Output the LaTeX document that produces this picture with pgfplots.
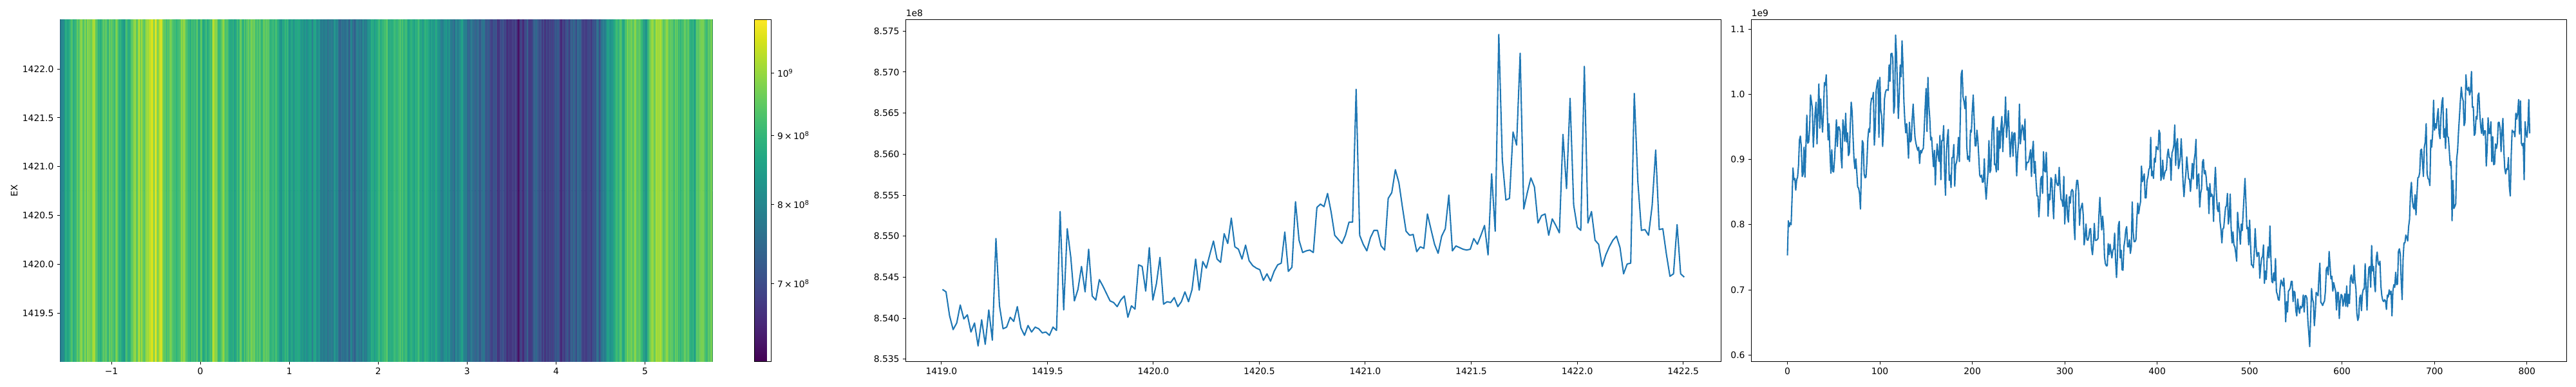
\documentclass[border=0pt]{standalone}
\usepackage{pgfplots}
\usepackage{pgfplotstable}
\usepackage{fontspec}
\setmainfont{DejaVu Sans}
\pgfplotsset{compat=1.18}
\definecolor{mplblue}{HTML}{1F77B4}
\pgfplotsset{
  mplaxis/.style={
    scale only axis, anchor=south west,
    axis line style={line width=0.72pt},
    tick align=outside, major tick length=3.5pt,
    every tick/.style={line width=0.72pt,black},
    xtick pos=bottom, ytick pos=left, minor tick num=0,
    tick label style={font=\fontsize{10}{12}\selectfont},
    /pgf/number format/assume math mode=true,
    /pgf/number format/1000 sep={},
    xticklabel style={inner sep=0pt, yshift=-3.5pt},
    yticklabel style={inner sep=0pt, xshift=-3.5pt},
    scaled x ticks=false, scaled y ticks=false,
  }
}
\pgfplotstableread{
v
0.753
0.806
0.797
0.803
0.800
0.840
0.887
0.869
0.871
0.853
0.869
0.873
0.891
0.930
0.936
0.920
0.874
0.878
0.919
0.873
0.920
0.968
0.925
0.927
0.947
0.999
0.989
0.978
0.919
0.947
0.973
0.988
0.924
0.973
1.016
0.948
0.993
0.963
0.942
0.973
1.018
1.014
1.030
0.980
0.930
0.955
0.911
0.879
0.915
0.882
0.881
0.901
0.930
0.961
0.920
0.950
0.950
0.943
0.904
0.887
0.961
0.948
0.928
0.971
0.927
0.941
0.906
0.910
0.953
0.988
0.973
0.934
0.901
0.886
0.901
0.881
0.858
0.856
0.848
0.824
0.881
0.929
0.925
0.878
0.872
0.873
0.897
0.932
0.947
0.942
0.983
0.994
0.993
1.003
0.922
0.947
1.006
1.016
1.022
0.934
1.026
0.976
0.966
0.920
0.947
0.993
1.003
1.007
1.007
1.006
1.045
1.020
1.062
1.063
1.055
0.971
0.983
1.091
1.062
1.012
0.963
0.999
1.045
1.027
1.082
1.045
0.989
0.960
0.941
0.955
0.930
0.902
0.957
0.927
0.930
0.963
0.985
0.957
0.934
0.925
0.919
0.914
0.919
0.894
0.914
0.910
0.915
0.917
0.947
0.980
1.009
0.943
1.026
0.983
0.963
0.930
0.934
0.910
0.889
0.914
0.861
0.901
0.924
0.907
0.897
0.937
0.869
0.929
0.929
0.952
0.881
0.845
0.910
0.934
0.946
0.868
0.876
0.857
0.903
0.903
0.923
0.859
0.892
0.896
0.907
0.934
0.897
0.963
1.031
1.037
0.996
0.989
0.978
0.997
0.920
0.900
0.905
0.897
0.945
0.942
0.976
0.999
0.963
0.921
0.921
0.945
0.930
0.904
0.876
0.873
0.876
0.865
0.866
0.901
0.858
0.839
0.861
0.881
0.929
0.880
0.884
0.930
0.963
0.966
0.892
0.893
0.881
0.949
0.884
0.944
0.917
0.950
0.966
0.912
0.947
0.957
0.996
0.934
0.953
0.975
0.937
0.904
0.927
0.942
0.905
0.940
0.941
0.917
0.875
0.907
0.927
0.985
0.924
0.940
0.953
0.948
0.930
0.962
0.884
0.896
0.895
0.897
0.906
0.915
0.874
0.914
0.928
0.879
0.897
0.865
0.844
0.844
0.812
0.835
0.870
0.874
0.848
0.912
0.883
0.881
0.911
0.871
0.813
0.847
0.838
0.872
0.869
0.835
0.809
0.855
0.877
0.865
0.861
0.860
0.888
0.858
0.838
0.838
0.828
0.874
0.801
0.832
0.846
0.812
0.804
0.843
0.833
0.851
0.854
0.851
0.799
0.777
0.851
0.868
0.868
0.851
0.799
0.822
0.828
0.833
0.815
0.769
0.782
0.801
0.777
0.776
0.781
0.793
0.794
0.764
0.754
0.772
0.802
0.776
0.776
0.777
0.779
0.815
0.842
0.815
0.792
0.813
0.796
0.751
0.740
0.737
0.737
0.771
0.754
0.770
0.759
0.749
0.761
0.763
0.787
0.745
0.719
0.750
0.799
0.805
0.749
0.761
0.731
0.730
0.766
0.776
0.792
0.797
0.766
0.766
0.777
0.756
0.766
0.835
0.789
0.774
0.774
0.777
0.809
0.833
0.817
0.828
0.835
0.890
0.866
0.871
0.878
0.841
0.841
0.868
0.873
0.885
0.887
0.934
0.875
0.882
0.871
0.902
0.896
0.920
0.917
0.915
0.945
0.940
0.868
0.874
0.899
0.870
0.878
0.883
0.884
0.907
0.916
0.903
0.902
0.868
0.910
0.914
0.922
0.953
0.891
0.924
0.932
0.886
0.892
0.904
0.932
0.901
0.864
0.843
0.864
0.878
0.904
0.887
0.870
0.870
0.851
0.871
0.894
0.870
0.899
0.909
0.931
0.855
0.874
0.878
0.827
0.848
0.855
0.896
0.900
0.878
0.883
0.873
0.853
0.857
0.817
0.863
0.843
0.847
0.843
0.805
0.861
0.888
0.851
0.825
0.820
0.834
0.805
0.792
0.772
0.794
0.795
0.812
0.827
0.829
0.848
0.801
0.812
0.847
0.795
0.772
0.789
0.769
0.766
0.756
0.744
0.819
0.799
0.789
0.770
0.801
0.791
0.818
0.845
0.871
0.835
0.794
0.796
0.769
0.807
0.769
0.738
0.738
0.734
0.756
0.794
0.766
0.751
0.757
0.757
0.718
0.736
0.749
0.751
0.769
0.710
0.729
0.716
0.749
0.766
0.749
0.798
0.752
0.713
0.711
0.726
0.714
0.748
0.697
0.693
0.685
0.684
0.703
0.715
0.711
0.706
0.718
0.693
0.651
0.682
0.666
0.698
0.700
0.703
0.713
0.713
0.682
0.698
0.696
0.668
0.660
0.686
0.672
0.664
0.675
0.672
0.675
0.692
0.666
0.691
0.691
0.687
0.653
0.634
0.613
0.657
0.702
0.686
0.681
0.645
0.664
0.696
0.694
0.691
0.721
0.741
0.681
0.679
0.676
0.680
0.683
0.698
0.732
0.735
0.723
0.759
0.738
0.717
0.721
0.698
0.711
0.704
0.698
0.669
0.696
0.696
0.656
0.683
0.693
0.691
0.675
0.683
0.694
0.675
0.706
0.674
0.693
0.679
0.717
0.723
0.712
0.710
0.738
0.713
0.702
0.664
0.653
0.658
0.687
0.692
0.668
0.694
0.701
0.701
0.740
0.702
0.669
0.710
0.734
0.736
0.704
0.768
0.729
0.736
0.710
0.697
0.749
0.758
0.741
0.738
0.744
0.706
0.691
0.684
0.682
0.685
0.683
0.670
0.692
0.689
0.700
0.693
0.698
0.660
0.698
0.708
0.704
0.727
0.708
0.709
0.759
0.763
0.755
0.713
0.685
0.747
0.772
0.772
0.784
0.781
0.775
0.797
0.808
0.849
0.865
0.838
0.827
0.824
0.846
0.815
0.846
0.872
0.873
0.880
0.914
0.916
0.895
0.874
0.919
0.927
0.955
0.878
0.871
0.869
0.860
0.930
0.919
0.940
0.991
0.945
0.955
0.948
0.966
0.978
0.940
0.932
0.966
0.988
0.995
0.934
0.947
0.917
0.978
0.935
0.934
0.914
0.891
0.897
0.806
0.868
0.825
0.828
0.832
0.901
0.914
0.943
0.966
0.990
1.011
0.996
0.990
0.952
0.957
1.030
1.009
1.006
1.011
0.999
1.006
1.035
0.980
0.981
0.937
0.940
0.966
0.962
0.998
1.002
0.970
0.950
0.940
0.963
0.937
0.944
0.944
0.890
0.917
0.964
0.940
0.940
0.958
0.897
0.935
0.892
0.893
0.924
0.917
0.925
0.957
0.957
0.947
0.912
0.943
0.963
0.914
0.886
0.878
0.886
0.885
0.903
0.858
0.844
0.907
0.945
0.942
0.943
0.935
0.971
0.962
0.971
0.992
0.939
0.990
0.925
0.921
0.925
0.869
0.958
0.940
0.934
0.950
0.992
0.940
}\prof
\pgfplotstableread{
v
8.5435
8.5432
8.5403
8.5386
8.5394
8.5416
8.5399
8.5404
8.5383
8.5394
8.5366
8.5398
8.5368
8.5410
8.5373
8.5497
8.5415
8.5387
8.5389
8.5401
8.5396
8.5414
8.5388
8.5379
8.5391
8.5383
8.5389
8.5387
8.5382
8.5383
8.5379
8.5389
8.5385
8.5530
8.5410
8.5509
8.5474
8.5421
8.5435
8.5463
8.5432
8.5484
8.5427
8.5422
8.5447
8.5439
8.5430
8.5421
8.5419
8.5414
8.5422
8.5427
8.5401
8.5415
8.5411
8.5465
8.5463
8.5433
8.5486
8.5422
8.5442
8.5474
8.5417
8.5420
8.5419
8.5425
8.5414
8.5420
8.5432
8.5420
8.5435
8.5472
8.5434
8.5469
8.5461
8.5478
8.5494
8.5472
8.5468
8.5503
8.5491
8.5522
8.5487
8.5484
8.5472
8.5489
8.5470
8.5464
8.5461
8.5459
8.5446
8.5454
8.5445
8.5457
8.5465
8.5467
8.5505
8.5457
8.5462
8.5542
8.5495
8.5480
8.5482
8.5483
8.5480
8.5535
8.5539
8.5536
8.5552
8.5529
8.5501
8.5496
8.5491
8.5501
8.5517
8.5517
8.5679
8.5501
8.5490
8.5482
8.5498
8.5507
8.5507
8.5488
8.5483
8.5546
8.5553
8.5581
8.5565
8.5535
8.5506
8.5501
8.5502
8.5481
8.5487
8.5485
8.5527
8.5508
8.5490
8.5479
8.5500
8.5509
8.5550
8.5482
8.5488
8.5486
8.5484
8.5483
8.5484
8.5497
8.5490
8.5501
8.5513
8.5477
8.5576
8.5506
8.5746
8.5593
8.5544
8.5546
8.5627
8.5611
8.5723
8.5533
8.5553
8.5571
8.5560
8.5516
8.5525
8.5527
8.5501
8.5521
8.5513
8.5504
8.5624
8.5558
8.5668
8.5538
8.5511
8.5507
8.5707
8.5516
8.5530
8.5495
8.5490
8.5463
8.5477
8.5487
8.5495
8.5500
8.5486
8.5454
8.5466
8.5467
8.5674
8.5566
8.5507
8.5508
8.5501
8.5537
8.5605
8.5508
8.5509
8.5478
8.5451
8.5454
8.5514
8.5454
8.5450
}\ridge
% the heat map repeats one profile along the vertical axis: two rows of cells
\def\rowA{}\def\rowB{}
\pgfplotstableforeachcolumnelement{v}\of\prof\as\cell{%
  \pgfmathsetmacro\xx{-1.576+0.009124*(\pgfplotstablerow+0.5)}%
  \pgfmathsetmacro\mm{log10(\cell)+9}%
  \xdef\rowA{\rowA (\xx,1419.88) [\mm]}%
  \xdef\rowB{\rowB (\xx,1421.63) [\mm]}%
}
\begin{document}
\begin{tikzpicture}
\path[use as bounding box] (0,0) rectangle (2880pt,432pt);
% heat map
\edef\heat{\noexpand\addplot[matrix plot*, mesh/cols=804, point meta=explicit] coordinates {\rowA \rowB};}
\begin{axis}[mplaxis, at={(67.32pt,27.72pt)}, width=729.36pt, height=382.32pt,
  xmin=-1.576, xmax=5.76, ymin=1419.005, ymax=1422.505,
  xtick={-1,0,1,2,3,4,5}, xticklabels={−1,0,1,2,3,4,5},
  ytick={1419.5,1420,1420.5,1421,1421.5,1422},
  yticklabels={1419.5,1420.0,1420.5,1421.0,1421.5,1422.0},
  ylabel={EX}, ylabel style={font=\fontsize{10}{12}\selectfont, at={(axis description cs:-0.0705,0.5)}, anchor=center},
  colormap/viridis, point meta min=8.7875, point meta max=9.0394,
  colorbar,
  colorbar shift/.style={xshift=46.08pt},
  colorbar style={width=18.72pt, ytick pos=right, yticklabel pos=right,
    axis line style={line width=0.72pt}, tick align=outside, major tick length=3.5pt,
    every tick/.style={line width=0.72pt,black},
    xtick=\empty,
    ytick={8.8451,8.9031,8.9542,9},
    yticklabels={7\,×\,10\textsuperscript{8},8\,×\,10\textsuperscript{8},9\,×\,10\textsuperscript{8},10\textsuperscript{9}},
    yticklabel style={font=\fontsize{10}{12}\selectfont, inner sep=0pt, xshift=3.5pt},
  },
]
\heat
\end{axis}
% ridge line
\begin{axis}[mplaxis, at={(1012.68pt,27.72pt)}, width=911.52pt, height=382.32pt,
  xmin=1418.832, xmax=1422.679, ymin=8.5347, ymax=8.5764,
  xtick={1419,1419.5,1420,1420.5,1421,1421.5,1422,1422.5},
  xticklabels={1419.0,1419.5,1420.0,1420.5,1421.0,1421.5,1422.0,1422.5},
  ytick={8.535,8.54,8.545,8.55,8.555,8.56,8.565,8.57,8.575},
  yticklabels={8.535,8.540,8.545,8.550,8.555,8.560,8.565,8.570,8.575},
  clip mode=individual,
]
\addplot[mplblue, line width=1.5pt, line join=round] table[x expr={1419.005+0.016827*\coordindex}, y=v] {\ridge};
\node[anchor=south west, inner sep=0pt, font=\fontsize{10}{12}\selectfont, yshift=3pt] at (rel axis cs:0,1) {1e8};
\end{axis}
% profile line
\begin{axis}[mplaxis, at={(1958.04pt,27.72pt)}, width=911.52pt, height=382.32pt,
  xmin=-39, xmax=843, ymin=0.590, ymax=1.1146,
  xtick={0,100,200,300,400,500,600,700,800},
  ytick={0.6,0.7,0.8,0.9,1.0,1.1},
  yticklabels={0.6,0.7,0.8,0.9,1.0,1.1},
  clip mode=individual,
]
\addplot[mplblue, line width=1.5pt, line join=round] table[x expr=\coordindex, y=v] {\prof};
\node[anchor=south west, inner sep=0pt, font=\fontsize{10}{12}\selectfont, yshift=3pt] at (rel axis cs:0,1) {1e9};
\end{axis}
\end{tikzpicture}
\end{document}
